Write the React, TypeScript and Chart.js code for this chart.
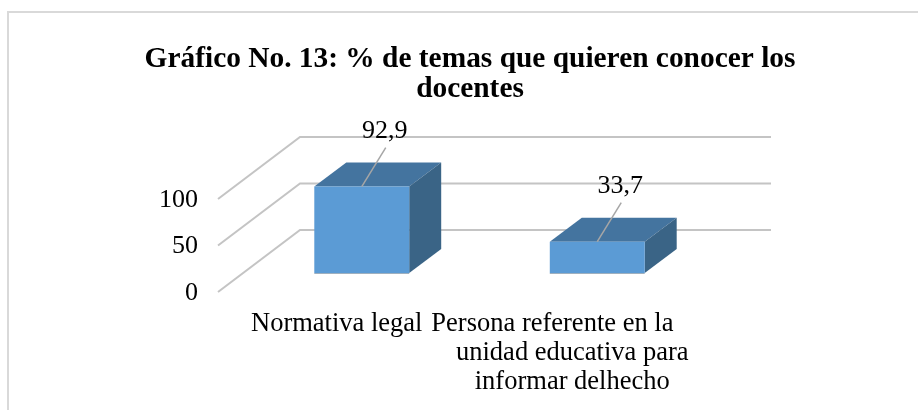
import React, { useEffect, useRef } from "react";
import { Chart, registerables } from "chart.js";

Chart.register(...registerables);

const titleLines = ["Gráfico No. 13: % de temas que quieren conocer los", "docentes"];
const categories = [
  ["Normativa legal"],
  ["Persona referente en la", "unidad educativa para", "informar delhecho"],
];
const seriesValues = [92.9, 33.7];
const axisMin = 0;
const axisMax = 100;
const axisStep = 50;

const FONT = "'Liberation Serif', 'Times New Roman', serif";
const FRONT = "#5b9bd5";
const TOP = "#44749f";
const SIDE = "#3a6486";
const GRID = "#c4c4c4";
const LEADER = "#a6a6a6";

const BAR_DX = 32;
const BAR_DY = -24;
const WALL_DX = 56;
const WALL_DY = -43;
const FLOOR_DX = -82;
const FLOOR_DY = 62;
const TITLE_CENTER = 470;

const poly = (ctx: CanvasRenderingContext2D, pts: number[][], fill: string) => {
  ctx.beginPath();
  pts.forEach(([x, y], i) => (i ? ctx.lineTo(x, y) : ctx.moveTo(x, y)));
  ctx.closePath();
  ctx.fillStyle = fill;
  ctx.fill();
};

const depthPlugin = {
  id: "depth",
  afterLayout(chart: any) {
    const block = chart.titleBlock;
    if (block) {
      block.left = 0;
      block.right = TITLE_CENTER * 2;
    }
  },
  beforeDraw(chart: any) {
    const { ctx, width, height } = chart;
    ctx.save();
    ctx.fillStyle = "#ffffff";
    ctx.fillRect(0, 0, width, height);
    ctx.strokeStyle = "#d9d9d9";
    ctx.lineWidth = 2;
    ctx.beginPath();
    ctx.moveTo(8, height);
    ctx.lineTo(8, 12);
    ctx.lineTo(width, 12);
    ctx.stroke();
    ctx.restore();
  },
  beforeDatasetsDraw(chart: any) {
    const { ctx, chartArea } = chart;
    const yScale = chart.scales.y;
    ctx.save();
    ctx.strokeStyle = GRID;
    ctx.lineWidth = 2;
    yScale.ticks.forEach((t: any) => {
      const y = yScale.getPixelForValue(t.value) + WALL_DY;
      const xl = chartArea.left + WALL_DX;
      ctx.beginPath();
      ctx.moveTo(xl + FLOOR_DX, y + FLOOR_DY);
      ctx.lineTo(xl, y);
      ctx.lineTo(chartArea.right + WALL_DX, y);
      ctx.stroke();
    });
    chart.getDatasetMeta(0).data.forEach((bar: any) => {
      const l = bar.x - bar.width / 2;
      const r = bar.x + bar.width / 2;
      poly(ctx, [[l, bar.y], [l + BAR_DX, bar.y + BAR_DY], [r + BAR_DX, bar.y + BAR_DY], [r, bar.y]], TOP);
      poly(ctx, [[r, bar.y], [r + BAR_DX, bar.y + BAR_DY], [r + BAR_DX, bar.base + BAR_DY], [r, bar.base]], SIDE);
    });
    ctx.restore();
  },
  afterDatasetsDraw(chart: any) {
    const { ctx } = chart;
    ctx.save();
    chart.getDatasetMeta(0).data.forEach((bar: any, i: number) => {
      const l = bar.x - bar.width / 2;
      const r = bar.x + bar.width / 2;
      ctx.strokeStyle = "#9fb0bf";
      ctx.lineWidth = 1;
      ctx.beginPath();
      ctx.moveTo(l, bar.base + 0.5);
      ctx.lineTo(r, bar.base + 0.5);
      ctx.stroke();
      ctx.strokeStyle = LEADER;
      ctx.lineWidth = 1.5;
      ctx.beginPath();
      ctx.moveTo(bar.x, bar.y);
      ctx.lineTo(bar.x + 24, bar.y - 39);
      ctx.stroke();
      ctx.fillStyle = "#000000";
      ctx.font = `26px ${FONT}`;
      ctx.textAlign = "center";
      ctx.textBaseline = "middle";
      ctx.fillText(String(seriesValues[i]).replace(".", ","), bar.x + 23, bar.y - 55);
    });
    ctx.restore();
  },
};

export default function App() {
  const ref = useRef<HTMLCanvasElement>(null);
  useEffect(() => {
    const chart = new Chart(ref.current as HTMLCanvasElement, {
      type: "bar",
      data: {
        labels: categories as any,
        datasets: [
          {
            data: seriesValues,
            backgroundColor: FRONT,
            borderWidth: 0,
            barPercentage: 1,
            categoryPercentage: 0.403,
          },
        ],
      },
      plugins: [depthPlugin],
      options: {
        animation: false,
        responsive: false,
        layout: { padding: { left: 150, right: 203, top: 0, bottom: 0 } },
        plugins: {
          legend: { display: false },
          tooltip: { enabled: false },
          title: {
            display: true,
            text: titleLines,
            color: "#000000",
            font: { family: FONT, size: 29.4, weight: "bold", lineHeight: 1.04 },
            padding: { top: 44, bottom: 74.8 },
          },
        },
        scales: {
          x: {
            grid: { display: false, drawTicks: false },
            border: { display: false },
            afterFit: (s: any) => {
              s.height = 137;
            },
            ticks: {
              color: "#000000",
              autoSkip: false,
              maxRotation: 0,
              minRotation: 0,
              padding: 36,
              labelOffset: -25,
              font: { family: FONT, size: 26.5, lineHeight: 1.11 },
              callback(this: any, _v: any, i: number) {
                const lines = categories[i];
                return lines.length > 1
                  ? lines.map((t, k) => (k === 0 ? t + "      " : t))
                  : lines;
              },
            },
          },
          y: {
            min: axisMin,
            max: axisMax,
            grid: { display: false, drawTicks: false },
            border: { display: false },
            afterFit: (s: any) => {
              s.width = 94;
            },
            ticks: {
              stepSize: axisStep,
              color: "#000000",
              padding: 46,
              labelOffset: 20,
              font: { family: FONT, size: 26 },
            },
          },
        },
      },
    } as any);
    return () => chart.destroy();
  }, []);
  return (
    <canvas
      ref={ref}
      width={918}
      height={410}
      style={{ position: "fixed", left: 0, top: 0, display: "block" }}
    />
  );
}
